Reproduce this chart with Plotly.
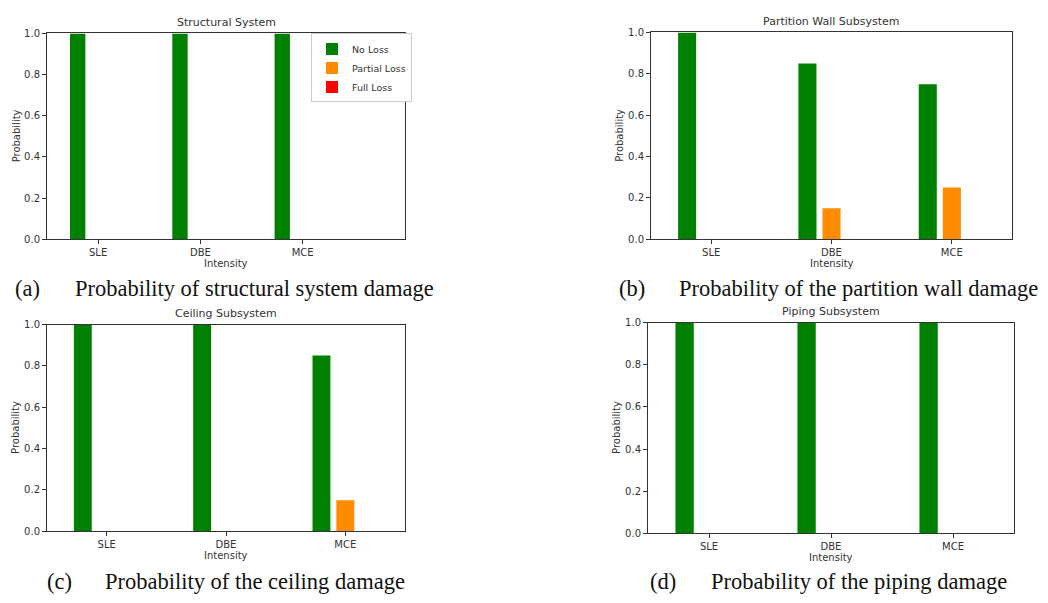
import plotly.graph_objects as go

categories = ["SLE", "DBE", "MCE"]
series_names = ["No Loss", "Partial Loss", "Full Loss"]
series_colors = ["#008000", "#ff8c00", "#ff0000"]

structural = {"No Loss": [1.0, 1.0, 1.0], "Partial Loss": [0.0, 0.0, 0.0], "Full Loss": [0.0, 0.0, 0.0]}
partition = {"No Loss": [1.0, 0.85, 0.75], "Partial Loss": [0.0, 0.15, 0.25], "Full Loss": [0.0, 0.0, 0.0]}
ceiling = {"No Loss": [1.0, 1.0, 0.85], "Partial Loss": [0.0, 0.0, 0.15], "Full Loss": [0.0, 0.0, 0.0]}
piping = {"No Loss": [1.0, 1.0, 1.0], "Partial Loss": [0.0, 0.0, 0.0], "Full Loss": [0.0, 0.0, 0.0]}

panel_titles = ["Structural System", "Partition Wall Subsystem", "Ceiling Subsystem", "Piping Subsystem"]
captions = ["Probability of structural system damage", "Probability of the partition wall damage",
            "Probability of the ceiling damage", "Probability of the piping damage"]
caption_labels = ["(a)", "(b)", "(c)", "(d)"]
y_ticks = [0.0, 0.2, 0.4, 0.6, 0.8, 1.0]

W, H = 1048, 603
panels = [structural, partition, ceiling, piping]
# plot-area boxes in pixels: left, right, top, bottom
boxes = [(47, 405, 28, 238), (651, 1012, 27, 238), (47, 405, 325, 536), (648, 1014, 323, 538)]
xranges = [[-0.5, 3.0], [-0.5, 2.5], [-0.5, 2.5], [-0.5, 2.5]]
offsets = [-0.2, 0.0, 0.2]
bar_w = 0.15

fig = go.Figure()
TXT = "#333333"
FONT = "DejaVu Sans"

for i, data in enumerate(panels):
    xa = "x" if i == 0 else f"x{i+1}"
    ya = "y" if i == 0 else f"y{i+1}"
    for j, name in enumerate(series_names):
        xs = [k + offsets[j] for k in range(len(categories))]
        fig.add_trace(go.Bar(
            x=xs, y=data[name], width=bar_w, name=name,
            marker=dict(color=series_colors[j], line=dict(width=0)),
            xaxis=xa, yaxis=ya, showlegend=(i == 0), legendgroup=name,
        ))
    l, r, t, b = boxes[i]
    xkey = "xaxis" if i == 0 else f"xaxis{i+1}"
    ykey = "yaxis" if i == 0 else f"yaxis{i+1}"
    fig.update_layout(**{
        xkey: dict(domain=[l / W, r / W], anchor=ya, range=xranges[i],
                   tickmode="array", tickvals=list(range(len(categories))), ticktext=categories,
                   showline=True, mirror=True, linecolor="#333", linewidth=1,
                   ticks="outside", ticklen=4, tickcolor="#333", showgrid=False, zeroline=False,
                   tickfont=dict(family=FONT, size=10, color=TXT)),
        ykey: dict(domain=[1 - b / H, 1 - t / H], anchor=xa, range=[0, 1.0],
                   tickmode="array", tickvals=y_ticks, ticktext=[f"{v:.1f}" for v in y_ticks],
                   showline=True, mirror=True, linecolor="#333", linewidth=1,
                   ticks="outside", ticklen=4, tickcolor="#333", showgrid=False, zeroline=False,
                   tickfont=dict(family=FONT, size=10, color=TXT)),
    })
    cx = (l + r) / 2
    # panel title
    fig.add_annotation(x=cx / W, y=1 - (t - 11) / H, xref="paper", yref="paper",
                       text=panel_titles[i], showarrow=False, xanchor="center", yanchor="middle",
                       font=dict(family=FONT, size=11, color=TXT))
    # x title
    fig.add_annotation(x=cx / W, y=1 - (b + 25) / H, xref="paper", yref="paper",
                       text="Intensity", showarrow=False, xanchor="center", yanchor="middle",
                       font=dict(family=FONT, size=10, color=TXT))
    # y title
    fig.add_annotation(x=(l - 31) / W, y=1 - ((t + b) / 2) / H, xref="paper", yref="paper",
                       text="Probability", showarrow=False, textangle=-90, xanchor="center", yanchor="middle",
                       font=dict(family=FONT, size=10, color=TXT))

# captions
cap_pos = [(13, 73, 288), (617, 677, 288), (45, 103, 587), (648, 709, 587)]
for i, (lx, tx, cy) in enumerate(cap_pos):
    fig.add_annotation(x=lx / W, y=1 - cy / H, xref="paper", yref="paper", text=caption_labels[i],
                       showarrow=False, xanchor="left", yanchor="middle",
                       font=dict(family="Liberation Serif", size=22.5, color="#111"))
    fig.add_annotation(x=tx / W, y=1 - cy / H, xref="paper", yref="paper", text=captions[i],
                       showarrow=False, xanchor="left", yanchor="middle",
                       font=dict(family="Liberation Serif", size=22.5, color="#111"))

fig.update_layout(
    width=W, height=H, margin=dict(l=0, r=0, t=0, b=0),
    paper_bgcolor="white", plot_bgcolor="white",
    barmode="overlay",
    legend=dict(x=311 / W, y=1 - 28 / H, xanchor="left", yanchor="top",
                bgcolor="white", bordercolor="#cccccc", borderwidth=1,
                font=dict(family=FONT, size=9.5, color=TXT), itemwidth=30, tracegroupgap=0),
)

fig.write_html("out.html")
